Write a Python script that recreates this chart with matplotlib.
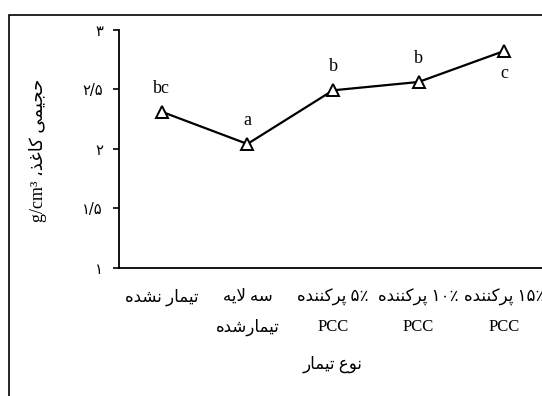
import re
import matplotlib
matplotlib.use("Agg")
import matplotlib.pyplot as plt
from matplotlib.patches import Rectangle

# ---- data -------------------------------------------------------------
treatments = [
    "تیمار نشده",
    "سه لایه\nتیمارشده",
    "۵٪ پرکننده\nPCC",
    "۱۰٪ پرکننده\nPCC",
    "۱۵٪ پرکننده\nPCC",
]
bulk = [2.31, 2.04, 2.49, 2.56, 2.82]
groups = ["bc", "a", "b", "b", "c"]
group_above = [True, True, True, True, False]
y_ticks = [1, 1.5, 2, 2.5, 3]
y_tick_labels = ["۱", "۱/۵", "۲", "۲/۵", "۳"]
x_title = "نوع تیمار"
y_title = "حجیمی کاغذ، g/cm³"

# ---- minimal Persian shaping (isolated, final, initial, medial) --------
FORMS = {
    "ا": ("\uFE8D", "\uFE8E", None, None),
    "ب": ("\uFE8F", "\uFE90", "\uFE91", "\uFE92"),
    "پ": ("\uFB56", "\uFB57", "\uFB58", "\uFB59"),
    "ت": ("\uFE95", "\uFE96", "\uFE97", "\uFE98"),
    "ج": ("\uFE9D", "\uFE9E", "\uFE9F", "\uFEA0"),
    "ح": ("\uFEA1", "\uFEA2", "\uFEA3", "\uFEA4"),
    "د": ("\uFEA9", "\uFEAA", None, None),
    "ذ": ("\uFEAB", "\uFEAC", None, None),
    "ر": ("\uFEAD", "\uFEAE", None, None),
    "ز": ("\uFEAF", "\uFEB0", None, None),
    "س": ("\uFEB1", "\uFEB2", "\uFEB3", "\uFEB4"),
    "ش": ("\uFEB5", "\uFEB6", "\uFEB7", "\uFEB8"),
    "ع": ("\uFEC9", "\uFECA", "\uFECB", "\uFECC"),
    "غ": ("\uFECD", "\uFECE", "\uFECF", "\uFED0"),
    "ف": ("\uFED1", "\uFED2", "\uFED3", "\uFED4"),
    "ک": ("\uFB8E", "\uFB8F", "\uFB90", "\uFB91"),
    "ل": ("\uFEDD", "\uFEDE", "\uFEDF", "\uFEE0"),
    "م": ("\uFEE1", "\uFEE2", "\uFEE3", "\uFEE4"),
    "ن": ("\uFEE5", "\uFEE6", "\uFEE7", "\uFEE8"),
    "ه": ("\uFEE9", "\uFEEA", "\uFEEB", "\uFEEC"),
    "و": ("\uFEED", "\uFEEE", None, None),
    "ی": ("\uFBFC", "\uFBFD", "\uFBFE", "\uFBFF"),
}
LAM_ALEF = ("\uFEFB", "\uFEFC")


def _joins_forward(ch):
    return ch in FORMS and FORMS[ch][2] is not None


def _shape(text):
    out = []
    i = 0
    n = len(text)
    while i < n:
        ch = text[i]
        prev = text[i - 1] if i > 0 else ""
        link_prev = _joins_forward(prev)
        if ch == "ل" and i + 1 < n and text[i + 1] == "ا":
            out.append(LAM_ALEF[1] if link_prev else LAM_ALEF[0])
            i += 2
            continue
        if ch not in FORMS:
            out.append(ch)
            i += 1
            continue
        nxt = text[i + 1] if i + 1 < n else ""
        link_next = _joins_forward(ch) and nxt in FORMS
        iso, fin, ini, med = FORMS[ch]
        if link_prev and link_next:
            out.append(med)
        elif link_prev:
            out.append(fin)
        elif link_next:
            out.append(ini)
        else:
            out.append(iso)
        i += 1
    return "".join(out)


def fa(text):
    """Shape a right-to-left line and return it in visual order."""
    lines = []
    for line in text.split("\n"):
        rev = _shape(line)[::-1]
        rev = re.sub(r"[A-Za-z0-9\u06F0-\u06F9\u066A/\u00B3]+",
                     lambda m: m.group(0)[::-1], rev)
        lines.append(rev)
    return "\n".join(lines)


# ---- figure -------------------------------------------------------------
W, H = 542, 396
fig = plt.figure(figsize=(W / 100, H / 100), dpi=100)
fig.patch.set_facecolor("white")

mixed = ["Liberation Serif", "DejaVu Sans"]

ax = fig.add_axes([119 / W, 1 - 268 / H, (547 - 119) / W, (268 - 29.5) / H])
x = list(range(len(treatments)))
ax.plot(x, bulk, color="black", lw=1.6, marker="^", markersize=8,
        markerfacecolor="white", markeredgecolor="black", markeredgewidth=1.4,
        zorder=3)

for xi, yi, g, above in zip(x, bulk, groups, group_above):
    ax.annotate(g, (xi, yi), xytext=(0, 17 if above else -16),
                textcoords="offset points", ha="center", va="center",
                fontsize=13, family="Liberation Serif")

ax.set_xlim(-0.5, len(treatments) - 0.5)
ax.set_ylim(1, 3)
ax.set_yticks(y_ticks)
ax.set_yticklabels(y_tick_labels, family="DejaVu Sans", fontsize=10.5)
ax.set_xticks(x)
ax.set_xticklabels([fa(t) for t in treatments], family=mixed, fontsize=12,
                   linespacing=2.05)

for side in ("top", "right"):
    ax.spines[side].set_visible(False)
for side in ("left", "bottom"):
    ax.spines[side].set_linewidth(1.3)
    ax.spines[side].set_color("black")
ax.tick_params(axis="y", direction="out", length=4.5, width=1.2, pad=7)
ax.tick_params(axis="x", length=0, pad=15)

fig.text(333 / W, 1 - 364 / H, fa(x_title), ha="center", va="center",
         family=mixed, fontsize=12)
fig.text(38 / W, 1 - 150 / H, fa(y_title), ha="center", va="center",
         rotation=90, family=mixed, fontsize=13)

# chart frame
fig.add_artist(Rectangle((9 / W, -0.1), 1.2, 1.1 - 15 / H,
                         transform=fig.transFigure, fill=False,
                         edgecolor="black", lw=1.2))

fig.savefig("out.png", dpi=100)
